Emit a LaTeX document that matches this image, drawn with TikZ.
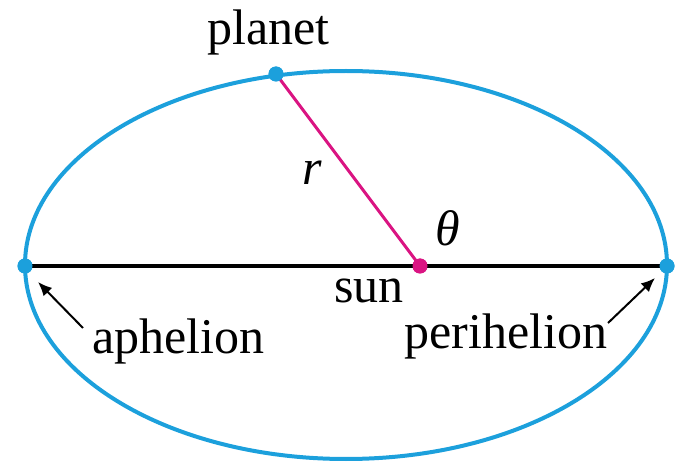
\documentclass[tikz,border=0pt]{standalone}
\usepackage{fontspec}
\setmainfont{Liberation Serif}
\usetikzlibrary{arrows.meta}
\definecolor{orbitblue}{RGB}{28,160,220}
\definecolor{rayred}{RGB}{218,20,130}
\tikzset{
  lbl/.style={font=\fontsize{25}{30}\selectfont, inner sep=0pt, anchor=base west},
  dotb/.style={circle, fill=orbitblue, inner sep=0pt, minimum size=7.5pt},
  dotm/.style={circle, fill=rayred, inner sep=0pt, minimum size=7.5pt},
  pointer/.style={line width=1pt, -{Latex[length=7pt,width=6pt]}},
}
\begin{document}
\begin{tikzpicture}[x=0.5pt,y=-0.5pt]
\useasboundingbox (0,0) rectangle (676,465);
\draw[orbitblue, line width=2pt] (346,265) ellipse [x radius=160.5pt, y radius=97pt];
\node[dotb] (aph) at (25,266) {};
\node[dotb] (peri) at (667,266) {};
\node[dotm] (sun) at (420,266) {};
\node[dotb] (planet) at (276,74) {};
\draw[line width=2pt] (aph.center) -- (sun.center) -- (peri.center);
\draw[rayred, line width=1.5pt] (planet.center) -- (sun.center);
\node[dotm] at (sun) {};
\node[dotb] at (aph) {};
\node[dotb] at (peri) {};
\node[dotb] at (planet) {};
\node[lbl] (tplanet) at (207,45) {planet};
\node[lbl] (tr) at (302,185) {\textit{r}};
\node[lbl] (ttheta) at (435,246) {\textit{θ}};
\node[lbl] (tsun) at (334,303) {sun};
\node[lbl] (taph) at (92,354) {aphelion};
\node[lbl] (tperi) at (404,349) {perihelion};
\coordinate (aphtail) at (83,328);
\coordinate (aphtip) at (38,282);
\coordinate (peritail) at (608,323);
\coordinate (peritip) at (655,278);
\draw[pointer] (aphtail) -- (aphtip);
\draw[pointer] (peritail) -- (peritip);
\end{tikzpicture}
\end{document}
